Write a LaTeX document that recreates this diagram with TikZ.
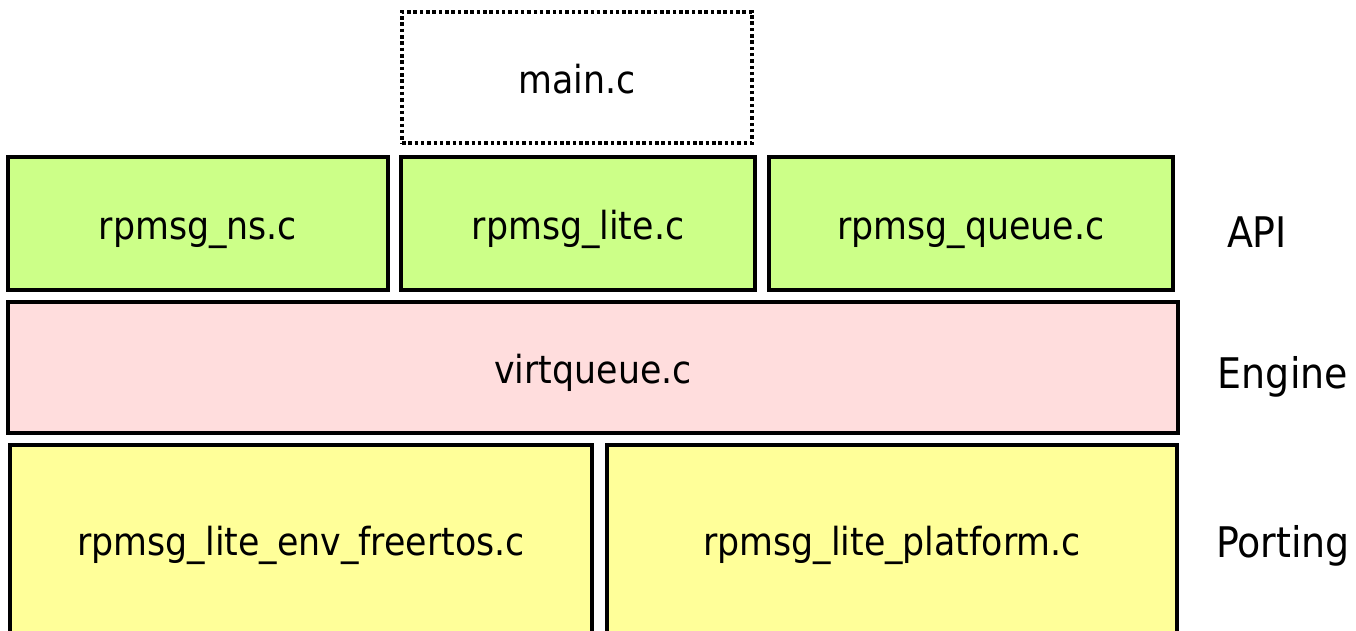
\documentclass[tikz,border=0pt]{standalone}
\usepackage{fontspec}
\setmainfont{DejaVu Sans Condensed}
\usepackage{tikz}
\usetikzlibrary{positioning}

\definecolor{apigreen}{RGB}{204,255,136}
\definecolor{enginepink}{RGB}{255,221,221}
\definecolor{portyellow}{RGB}{255,255,153}

\tikzset{
    layerbox/.style={draw=black, line width=2.2pt, inner sep=0pt, text height=23pt, text depth=5pt, font=\fontsize{22}{26}\selectfont},
    apibox/.style={layerbox, fill=apigreen, minimum height=2.66cm},
    portbox/.style={layerbox, fill=portyellow, minimum height=3.78cm},
    layername/.style={font=\fontsize{24}{28}\selectfont}
}

\begin{document}
\begin{tikzpicture}
    \useasboundingbox (0,0) rectangle (27.12,-12.62);

    % Application on top
    \node[layerbox, line width=2.2pt, dash pattern=on 2pt off 1.6pt, minimum width=7cm, minimum height=2.62cm] (mainc) at (11.54,-1.55) {main.c};

    % API layer
    \node[apibox, minimum width=7.6cm] (ns) at (3.96,-4.47) {rpmsg\_ns.c};
    \node[apibox, minimum width=7.08cm] (lite) at (11.56,-4.47) {rpmsg\_lite.c};
    \node[apibox, minimum width=8.08cm] (queue) at (19.42,-4.47) {rpmsg\_queue.c};

    % Engine layer
    \node[layerbox, fill=enginepink, minimum width=23.4cm, minimum height=2.62cm] (vq) at (11.86,-7.35) {virtqueue.c};

    % Porting layer
    \node[portbox, minimum width=11.64cm] (env) at (6.02,-10.79) {rpmsg\_lite\_env\_freertos.c};
    \node[portbox, minimum width=11.4cm] (plat) at (17.84,-10.79) {rpmsg\_lite\_platform.c};

    % Layer names
    \node[layername] (api) at (25.14,-4.64) {API};
    \node[layername] (engine) at (25.66,-7.54) {Engine};
    \node[layername] (porting) at (25.66,-10.92) {Porting};
\end{tikzpicture}
\end{document}
